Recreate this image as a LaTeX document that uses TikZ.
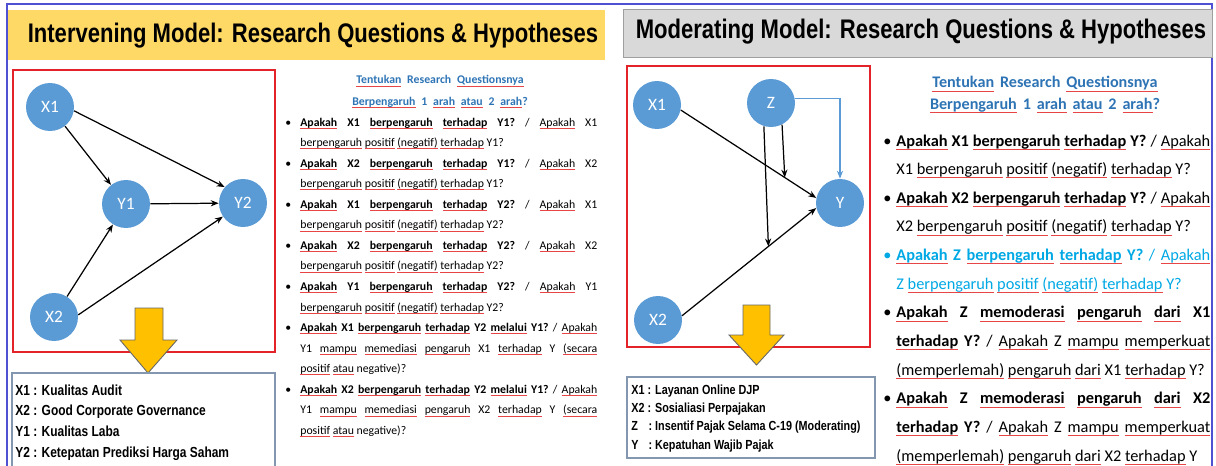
\documentclass[tikz,border=0pt]{standalone}
\usepackage{fontspec}
\usetikzlibrary{arrows.meta,calc}
\setmainfont{Carlito}
\newfontfamily\hdfont{Liberation Sans}[FakeStretch=0.82]
\definecolor{sl_blue}{RGB}{91,155,213}
\definecolor{sl_red}{RGB}{228,34,42}
\definecolor{sl_frame}{RGB}{78,82,210}
\definecolor{sl_yellow}{RGB}{255,217,102}
\definecolor{sl_grey}{RGB}{217,217,217}
\definecolor{sl_gold}{RGB}{255,192,0}
\definecolor{sl_title}{RGB}{46,116,181}
\definecolor{sl_cyan}{RGB}{0,168,228}
\definecolor{sl_spell}{RGB}{232,70,70}
\definecolor{sl_box}{RGB}{132,151,176}
\tikzstyle{bn}=[circle,fill=sl_blue,draw=none,inner sep=0pt,
  minimum size=0.96cm,text=white,font=\fontsize{9.9}{11}\selectfont]
\tikzstyle{ar}=[-{Stealth[length=4.5pt,width=3.5pt]},line width=0.7pt]
\tikzstyle{za}=[-{Stealth[length=4.5pt,width=3.5pt]},line width=0.6pt,draw=sl_blue]
\tikzstyle{rb}=[draw=sl_red,line width=1.4pt]
\tikzstyle{ya}=[fill=sl_gold,draw=gray!80!black,line width=0.5pt]
\tikzstyle{lb}=[draw=sl_box,line width=0.6pt,fill=white]
\tikzstyle{hd}=[anchor=base,inner sep=0pt,font=\hdfont\bfseries\fontsize{15.3}{18}\selectfont]
\tikzstyle{tt}=[anchor=base,inner sep=0pt,align=center,text=sl_title]
\tikzstyle{qs}=[anchor=base west,inner sep=0pt,align=justify]
\tikzstyle{none}=[]
\newlength\bind
\newsavebox\splbox
\newcommand\spl[1]{\leavevmode\sbox\splbox{#1}%
  \rlap{\textcolor{sl_spell}{\rule[-0.45ex]{\wd\splbox}{0.45pt}}}\usebox\splbox}
\newcommand\bfirst{\noindent\hangindent=\bind\hangafter=1\makebox[\bind][l]{\textbullet}}
\newcommand\bitem{\par\bfirst}
\newcommand\qsetup{\frenchspacing\tolerance=9999\hyphenpenalty=10000\emergencystretch=1em}

\begin{document}
\begin{tikzpicture}[x=0.02cm, y=-0.02cm]
        \useasboundingbox (0,0) rectangle (1216,466);
        % slide frame and headers
        \draw [draw=sl_frame, line width=1.4pt] (7,466) -- (7,4) -- (1212,4) -- (1212,466);
        \fill [sl_yellow] (8,10) rectangle (605,60);
        \draw [fill=sl_grey, draw=gray!75] (623,9) rectangle (1212,57);
        \node [style=hd] (h0) at (313,43) {Intervening Model: Research Questions \& Hypotheses};
        \node [style=hd] (h1) at (921,39) {Moderating Model: Research Questions \& Hypotheses};

        % intervening model
        \draw [style=rb] (13,70) rectangle (275,352);
        \node [style=bn] (0) at (50, 107) {X1};
        \node [style=bn] (1) at (54, 317) {X2};
        \node [style=bn] (2) at (126, 204) {Y1};
        \node [style=bn] (3) at (243, 203) {Y2};
        \draw [style=ar] (0.-9) to (3.139);
        \draw [style=ar] (0) to (2);
        \draw [style=ar] (2) to (3);
        \draw [style=ar] (1) to (2);
        \draw [style=ar] (1.5) to (3);
        \draw [style=ya] (135,308) -- (163,308) -- (163,340) -- (177,340) -- (148,373)
          -- (120,340) -- (135,340) -- cycle;
        \draw [style=lb] (12,373) rectangle (275,472);
        \node [anchor=base west, inner sep=0pt] (l0) at (15,395)
          {\hdfont\bfseries\fontsize{8.3}{11.9}\selectfont
           \begin{tabular}[t]{@{}l@{ : }l@{}}
           X1 & Kualitas Audit\\
           X2 & Good Corporate Governance\\
           Y1 & Kualitas Laba\\
           Y2 & Ketepatan Prediksi Harga Saham
           \end{tabular}};
        \node [style=tt, text width=6cm] (t0) at (440,84)
          {\bfseries\fontsize{6.7}{10.8}\selectfont
           \spl{Tentukan} Research \spl{Questionsnya}\\
           \spl{Berpengaruh} 1 \spl{arah} \spl{atau} 2 \spl{arah}?};
        \node [style=qs, text width=6.24cm] (q0) at (285,126)
          {\fontsize{6.7}{11.7}\selectfont\qsetup\setlength\bind{0.3cm}%
           \bfirst\textbf{\spl{Apakah} X1 \spl{berpengaruh} \spl{terhadap} Y1?} / \spl{Apakah} X1\linebreak
           \spl{berpengaruh} \spl{positif} \spl{(negatif)} \spl{terhadap} Y1?
           \bitem\textbf{\spl{Apakah} X2 \spl{berpengaruh} \spl{terhadap} Y1?} / \spl{Apakah} X2\linebreak
           \spl{berpengaruh} \spl{positif} \spl{(negatif)} \spl{terhadap} Y1?
           \bitem\textbf{\spl{Apakah} X1 \spl{berpengaruh} \spl{terhadap} Y2?} / \spl{Apakah} X1\linebreak
           \spl{berpengaruh} \spl{positif} \spl{(negatif)} \spl{terhadap} Y2?
           \bitem\textbf{\spl{Apakah} X2 \spl{berpengaruh} \spl{terhadap} Y2?} / \spl{Apakah} X2\linebreak
           \spl{berpengaruh} \spl{positif} \spl{(negatif)} \spl{terhadap} Y2?
           \bitem\textbf{\spl{Apakah} Y1 \spl{berpengaruh} \spl{terhadap} Y2?} / \spl{Apakah} Y1\linebreak
           \spl{berpengaruh} \spl{positif} \spl{(negatif)} \spl{terhadap} Y2?
           \bitem\textbf{\spl{Apakah} X1 \spl{berpengaruh} \spl{terhadap} Y2 \spl{melalui} Y1?} / \spl{Apakah}\linebreak
           Y1 \spl{mampu} \spl{memediasi} \spl{pengaruh} X1 \spl{terhadap} Y \spl{(secara}\linebreak
           \spl{positif} \spl{atau} negative)?
           \bitem\textbf{\spl{Apakah} X2 \spl{berpengaruh} \spl{terhadap} Y2 \spl{melalui} Y1?} / \spl{Apakah}\linebreak
           Y1 \spl{mampu} \spl{memediasi} \spl{pengaruh} X2 \spl{terhadap} Y \spl{(secara}\linebreak
           \spl{positif} \spl{atau} negative)?\par};

        % moderating model
        \draw [style=rb] (627,66) rectangle (870,347);
        \node [style=bn] (4) at (657, 105) {X1};
        \node [style=bn] (5) at (658, 320) {X2};
        \node [style=bn] (6) at (771, 103) {Z};
        \node [style=bn] (7) at (840, 203) {Y};
        \draw [style=ar] (4.-12) to coordinate [pos=0.768] (m0) (7.168);
        \draw [style=ar] (5.10) to coordinate [pos=0.644] (m1) (7.192);
        \draw [style=ar] (6.-63) to (m0);
        \draw [style=ar] (6.-107) to (m1);
        \draw [style=za] (6.10) -| (7.north);
        \draw [style=ya] (743,305) -- (770,305) -- (770,335) -- (784,335) -- (756.5,365)
          -- (729,335) -- (743,335) -- cycle;
        \draw [style=lb] (627,377) rectangle (875,458);
        \node [anchor=base west, inner sep=0pt] (l1) at (631,394)
          {\hdfont\bfseries\fontsize{7.5}{10.5}\selectfont
           \begin{tabular}[t]{@{}l@{ : }l@{}}
           X1 & Layanan Online DJP\\
           X2 & Sosialiasi Perpajakan\\
           Z & Insentif Pajak Selama C-19 (Moderating)\\
           Y & Kepatuhan Wajib Pajak
           \end{tabular}};
        \node [style=tt, text width=6.4cm] (t1) at (1045,88)
          {\bfseries\fontsize{9.2}{15.9}\selectfont
           \spl{Tentukan} Research \spl{Questionsnya}\\
           \spl{Berpengaruh} 1 \spl{arah} \spl{atau} 2 \spl{arah}?};
        \node [style=qs, text width=6.54cm] (q1) at (883,146)
          {\fontsize{9.3}{16.3}\selectfont\qsetup\setlength\bind{0.26cm}%
           \bfirst\textbf{\spl{Apakah} X1 \spl{berpengaruh} \spl{terhadap} Y?} / \spl{Apakah}\linebreak
           X1 \spl{berpengaruh} \spl{positif} \spl{(negatif)} \spl{terhadap} Y?
           \bitem\textbf{\spl{Apakah} X2 \spl{berpengaruh} \spl{terhadap} Y?} / \spl{Apakah}\linebreak
           X2 \spl{berpengaruh} \spl{positif} \spl{(negatif)} \spl{terhadap} Y?
           {\color{sl_cyan}\bitem\textbf{\spl{Apakah} Z \spl{berpengaruh} \spl{terhadap} Y?} / \spl{Apakah}\linebreak
           Z \spl{berpengaruh} \spl{positif} \spl{(negatif)} \spl{terhadap} Y?}
           \bitem\textbf{\spl{Apakah} Z \spl{memoderasi} \spl{pengaruh} \spl{dari} X1\linebreak
           \spl{terhadap} Y?} / \spl{Apakah} Z \spl{mampu} \spl{memperkuat}\linebreak
           \spl{(memperlemah)} \spl{pengaruh} \spl{dari} X1 \spl{terhadap} Y?
           \bitem\textbf{\spl{Apakah} Z \spl{memoderasi} \spl{pengaruh} \spl{dari} X2\linebreak
           \spl{terhadap} Y?} / \spl{Apakah} Z \spl{mampu} \spl{memperkuat}\linebreak
           \spl{(memperlemah)} \spl{pengaruh} \spl{dari} X2 \spl{terhadap} Y\par};
    \end{tikzpicture}
\end{document}
